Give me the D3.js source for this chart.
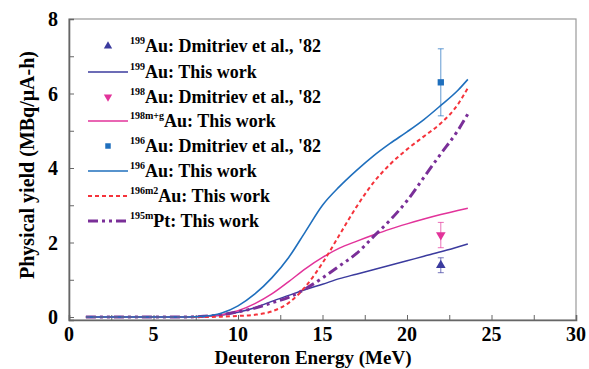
<!DOCTYPE html>
<html>
<head>
<meta charset="utf-8">
<script src="https://cdn.jsdelivr.net/npm/d3@7"></script>
<style>
  body { margin: 0; background: #fff; }
</style>
</head>
<body>
<div id="chart"></div>
<script>
// energy grid for the calculated curves (MeV)
const energies = [1, 4, 7, 8, 9, 10, 11, 12, 13, 14, 15, 16, 17, 18, 19, 20, 21, 22, 23, 23.6];

// calculated yields, MBq/uA-h
const au199Calc  = [0, 0, 0, 0.02, 0.05, 0.13, 0.25, 0.42, 0.58, 0.74, 0.88, 1.03, 1.15, 1.27, 1.39, 1.51, 1.63, 1.75, 1.88, 1.96];
const au198Calc  = [0, 0, 0, 0.02, 0.06, 0.17, 0.36, 0.62, 0.95, 1.3, 1.6, 1.85, 2.03, 2.2, 2.36, 2.5, 2.63, 2.75, 2.86, 2.92];
const au196Calc  = [0, 0, 0, 0.02, 0.1, 0.3, 0.62, 1.05, 1.6, 2.3, 3.0, 3.5, 3.93, 4.32, 4.66, 4.97, 5.3, 5.68, 6.08, 6.38];
const au196m2Calc = [0, 0, 0, 0, 0.01, 0.03, 0.06, 0.15, 0.38, 0.82, 1.45, 2.2, 2.95, 3.6, 4.1, 4.5, 4.85, 5.2, 5.7, 6.15];
const pt195mCalc = [0, 0, 0, 0.02, 0.06, 0.14, 0.24, 0.38, 0.53, 0.76, 1.05, 1.37, 1.7, 2.15, 2.6, 3.12, 3.75, 4.38, 5.0, 5.45];

// Dmitriev et al. '82 measurements at 22 MeV: value, error
const expEnergy = 22;
const au199Exp = [1.39, 0.2];
const au198Exp = [2.2, 0.34];
const au196Exp = [6.3, 0.9];

const xTicks = [0, 5, 10, 15, 20, 25, 30];
const yTicks = [0, 2, 4, 6, 8];

const width = 589, height = 369;
const margin = {top: 19, right: 13, bottom: 49, left: 70};
const serif = "'Liberation Serif', 'Times New Roman', Tinos, 'DejaVu Serif', serif";

const svg = d3.select('#chart').append('svg')
  .attr('width', width)
  .attr('height', height)
  .attr('font-family', serif)
  .attr('font-weight', 'bold');

const x = d3.scaleLinear().domain([0, 30]).range([margin.left - 1, width - margin.right]);
const y = d3.scaleLinear().domain([-0.08, 8]).range([height - margin.bottom, margin.top]);

// frame: top and right lighter
svg.append('rect')
  .attr('x', x(0)).attr('y', y(8))
  .attr('width', x(30) - x(0)).attr('height', y(-0.08) - y(8))
  .attr('fill', 'none').attr('stroke', '#999').attr('stroke-width', 1.2);

// axes with inward ticks
const xAxis = svg.append('g')
  .attr('transform', `translate(0,${y(-0.08)})`)
  .call(d3.axisBottom(x).tickValues(d3.range(0, 30.1, 2.5)).tickSize(-5).tickFormat(''));
const yAxis = svg.append('g')
  .attr('transform', `translate(${x(0)},0)`)
  .call(d3.axisLeft(y).tickValues(d3.range(0, 8.1, 1)).tickSize(-5).tickFormat(''));
[xAxis, yAxis].forEach(a => {
  a.select('.domain').attr('stroke', '#666').attr('stroke-width', 1.6);
  a.selectAll('.tick line').attr('stroke', '#666').attr('stroke-width', 1);
});

svg.append('g').selectAll('text')
  .data(xTicks).join('text')
  .attr('x', d => x(d)).attr('y', 341)
  .attr('text-anchor', 'middle')
  .attr('font-family', serif)
  .attr('font-size', 20)
  .text(d => d);

svg.append('g').selectAll('text')
  .data(yTicks).join('text')
  .attr('x', 58).attr('y', d => y(d) + 7)
  .attr('text-anchor', 'end')
  .attr('font-family', serif)
  .attr('font-size', 20)
  .text(d => d);

svg.append('text')
  .attr('x', 313).attr('y', 364)
  .attr('text-anchor', 'middle')
  .attr('font-family', serif)
  .attr('font-size', 19)
  .text('Deuteron Energy (MeV)');

svg.append('text')
  .attr('transform', `translate(34,165) rotate(-90)`)
  .attr('text-anchor', 'middle')
  .attr('font-family', serif)
  .attr('font-size', 20)
  .text('Physical yield (MBq/\u03bcA-h)');

const line = d3.line()
  .x(d => x(d[0]))
  .y(d => y(d[1]))
  .curve(d3.curveMonotoneX);

const curves = [
  {vals: au199Calc, color: '#3b3b9e', width: 1.5, dash: null},
  {vals: au198Calc, color: '#e2339a', width: 1.5, dash: null},
  {vals: pt195mCalc, color: '#7a2f98', width: 3, dash: '10,4,3,4,3,4'},
  {vals: au196m2Calc, color: '#f5333b', width: 2, dash: '4,3'},
  {vals: au196Calc, color: '#1f6fbd', width: 1.6, dash: null}
];

curves.forEach(c => {
  svg.append('path')
    .datum(energies.map((e, i) => [e, c.vals[i]]))
    .attr('d', line)
    .attr('fill', 'none')
    .attr('stroke', c.color)
    .attr('stroke-width', c.width)
    .attr('stroke-dasharray', c.dash);
});

// experimental points with error bars
const points = [
  {v: au199Exp, color: '#3b3b9e', sym: d3.symbolTriangle, rot: 0},
  {v: au198Exp, color: '#e2339a', sym: d3.symbolTriangle, rot: 180},
  {v: au196Exp, color: '#1f6fbd', sym: d3.symbolSquare, rot: 0}
];

points.forEach(p => {
  const g = svg.append('g').attr('stroke', p.color).attr('stroke-opacity', 0.7);
  const cx = x(expEnergy);
  g.append('line').attr('x1', cx).attr('x2', cx)
    .attr('y1', y(p.v[0] - p.v[1])).attr('y2', y(p.v[0] + p.v[1]));
  [p.v[0] - p.v[1], p.v[0] + p.v[1]].forEach(t => {
    g.append('line').attr('x1', cx - 3).attr('x2', cx + 3)
      .attr('y1', y(t)).attr('y2', y(t));
  });
  svg.append('path')
    .attr('d', d3.symbol(p.sym, 40)())
    .attr('transform', `translate(${cx},${y(p.v[0])}) rotate(${p.rot})`)
    .attr('fill', p.color);
});

// legend
const legend = [
  {sup: '199', txt: "Au: Dmitriev et al., '82", color: '#3b3b9e', kind: 'tri'},
  {sup: '199', txt: 'Au: This work', color: '#3b3b9e', kind: 'line'},
  {sup: '198', txt: "Au: Dmitriev et al., '82", color: '#e2339a', kind: 'tridown'},
  {sup: '198m+g', txt: 'Au: This work', color: '#e2339a', kind: 'line'},
  {sup: '196', txt: "Au: Dmitriev et al., '82", color: '#1f6fbd', kind: 'sq'},
  {sup: '196', txt: 'Au: This work', color: '#1f6fbd', kind: 'line'},
  {sup: '196m2', txt: 'Au: This work', color: '#f5333b', kind: 'dash'},
  {sup: '195m', txt: 'Pt: This work', color: '#7a2f98', kind: 'dashdot'}
];

const rowY = [46, 72, 97, 121, 146, 171, 196, 221];

legend.forEach((d, i) => {
  const ry = rowY[i];
  if (d.kind === 'tri' || d.kind === 'tridown' || d.kind === 'sq') {
    svg.append('path')
      .attr('d', d3.symbol(d.kind === 'sq' ? d3.symbolSquare : d3.symbolTriangle, 30)())
      .attr('transform', `translate(108,${ry}) rotate(${d.kind === 'tridown' ? 180 : 0})`)
      .attr('fill', d.color);
  } else {
    svg.append('line')
      .attr('x1', 88).attr('x2', 128).attr('y1', ry).attr('y2', ry)
      .attr('stroke', d.color)
      .attr('stroke-width', d.kind === 'dashdot' ? 3 : (d.kind === 'dash' ? 2 : 1.5))
      .attr('stroke-dasharray', d.kind === 'dash' ? '4,3' : (d.kind === 'dashdot' ? '10,4,3,4,3,4' : null));
  }
  const t = svg.append('text').attr('x', 130).attr('y', ry + 6)
    .attr('font-family', serif).attr('font-size', 18);
  t.append('tspan').attr('font-size', 10).attr('dy', -8).text(d.sup);
  t.append('tspan').attr('dy', 8).text(d.txt);
});
</script>
</body>
</html>
